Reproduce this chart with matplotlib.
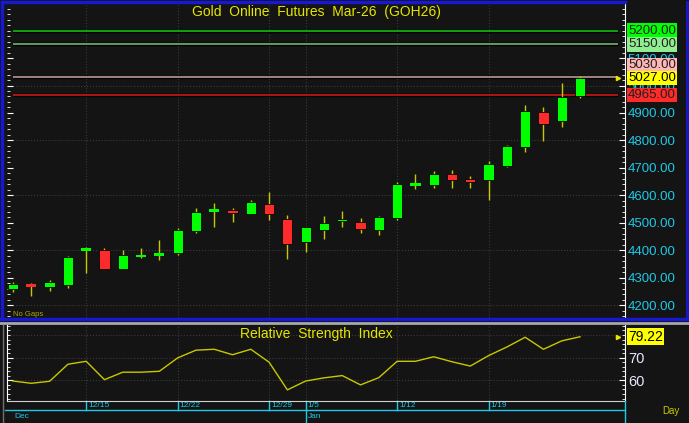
import matplotlib.pyplot as plt
from matplotlib.patches import Rectangle
from matplotlib.lines import Line2D
import numpy as np

plt.rcParams['font.family'] = ['Liberation Sans', 'DejaVu Sans']

# daily candles, Gold Online Futures Mar-26
opens = [4260, 4275, 4266, 4272, 4399, 4400, 4332, 4376, 4382, 4389, 4471, 4542, 4545, 4532, 4568, 4515,
         4431, 4475, 4505, 4502, 4472, 4518, 4637, 4637, 4678, 4661, 4654, 4708, 4775, 4902, 4871, 4962]
highs = [4285, 4280, 4290, 4379, 4410, 4408, 4402, 4408, 4436, 4481, 4554, 4572, 4555, 4582, 4612, 4528,
         4484, 4526, 4542, 4517, 4525, 4647, 4678, 4688, 4691, 4670, 4724, 4784, 4929, 4923, 5008, 5033]
lows = [4249, 4233, 4252, 4263, 4316, 4330, 4330, 4372, 4365, 4383, 4462, 4485, 4504, 4532, 4509, 4367,
        4392, 4442, 4485, 4461, 4455, 4509, 4622, 4626, 4626, 4626, 4583, 4704, 4758, 4799, 4850, 4956]
closes = [4276, 4266, 4283, 4375, 4404, 4332, 4381, 4381, 4388, 4475, 4538, 4550, 4534, 4576, 4533, 4421,
          4484, 4499, 4515, 4478, 4521, 4641, 4641, 4678, 4656, 4647, 4713, 4781, 4907, 4861, 4959, 5027]
rsi = [59.7, 58.7, 59.6, 67.1, 68.4, 60.3, 63.6, 63.6, 64.0, 69.9, 73.3, 73.7, 71.3, 73.7, 68.0, 55.8,
       59.7, 61.1, 62.1, 58.0, 61.2, 68.4, 68.4, 70.4, 68.2, 66.3, 70.9, 74.7, 79.0, 73.7, 77.4, 79.22]

# week start labels (candle index)
week_idx = [4, 9, 14, 16, 21, 26]
week_lbl = ['12/15', '12/22', '12/29', '1/5', '1/12', '1/19']
month_idx = [0, 16]
month_lbl = ['Dec', 'Jan']

# horizontal levels
levels = [5200, 5150, 5030, 4965]
level_line = ['#10c010', '#6fb86f', '#c09898', '#d01818']
level_box = ['#00ff00', '#90ee90', '#ffb6b6', '#ff2a2a']

BG = '#141414'
GRID = '#3a3a3a'
WICK = '#c8c800'
UP = '#00ff00'
DN = '#ff2a2a'
CYAN = '#1ec8e6'
W, H = 689, 423

fig = plt.figure(figsize=(W / 100, H / 100), dpi=100, facecolor=BG)


def fr(x0, y0, x1, y1):
    return [x0 / W, 1 - y1 / H, (x1 - x0) / W, (y1 - y0) / H]


ax = fig.add_axes(fr(7, 4, 625, 318), facecolor=BG)
ax2 = fig.add_axes(fr(7, 325, 625, 401), facecolor=BG)

n = len(closes)
xs = np.arange(n)
for a in (ax, ax2):
    a.set_xlim(-0.33, 33.46)
    for s in ('top', 'bottom', 'left'):
        a.spines[s].set_visible(False)
    a.spines['right'].set_color('white')
    a.set_xticks([])
    for wi in week_idx:
        a.axvline(wi, color=GRID, ls=':', lw=0.8, zorder=0)

# candles
ax.set_ylim(4153, 5297)
bw = 0.56
for i in range(n):
    o, c = opens[i], closes[i]
    ax.vlines(i, lows[i], highs[i], color=WICK, lw=1, zorder=2)
    col = UP if c >= o else DN
    h = abs(c - o)
    if h < 10:
        mid = (o + c) / 2
        ax.add_patch(Rectangle((i - bw / 2, mid - 5), bw, 10, facecolor=col, edgecolor='none', zorder=3))
    else:
        ax.add_patch(Rectangle((i - bw / 2, min(o, c)), bw, h, facecolor=col, edgecolor='#050505',
                               lw=0.6, zorder=3))

for g in range(4200, 5300, 200):
    ax.axhline(g, color=GRID, ls=':', lw=0.8, zorder=0)

for v, lc in zip(levels, level_line):
    ax.hlines(v, 0, 33.05, color='black', lw=2.4, zorder=1)
    ax.hlines(v, 0, 33.05, color=lc, lw=1.2, zorder=1)

ax.plot(33.05, closes[-1], marker='>', ms=3, color='#e6e600', clip_on=False, zorder=4)

ax.set_yticks(np.arange(4200, 5101, 100))
ax.set_yticks(np.arange(4160, 5297, 20), minor=True)
ax.yaxis.set_major_formatter(plt.FuncFormatter(lambda v, p: '%.2f' % v))
ax.tick_params(axis='y', which='both', left=True, right=True, labelleft=False, labelright=True,
               direction='in', colors='white', labelcolor=CYAN, labelsize=9.5, pad=2)
ax.tick_params(axis='y', which='major', length=4)
ax.tick_params(axis='y', which='minor', length=2)

# boxed labels at right
ppu = (318 - 4) / (5297 - 4153)
box_h = 13 / ppu
bx = 1 + 3 / 618
for v, bc in zip(levels, level_box):
    yv = v
    if abs(v - closes[-1]) < box_h:
        yv = closes[-1] + box_h if v > closes[-1] else closes[-1] - box_h
    ax.text(bx, yv, '%.2f' % v, transform=ax.get_yaxis_transform(), ha='left', va='center',
            fontsize=9.5, color='#202020', zorder=5,
            bbox=dict(boxstyle='square,pad=0.1', facecolor=bc, edgecolor='none'))
ax.text(bx, closes[-1], '%.2f' % closes[-1], transform=ax.get_yaxis_transform(), ha='left', va='center',
        fontsize=9.5, color='black', zorder=6,
        bbox=dict(boxstyle='square,pad=0.1', facecolor='#ffff00', edgecolor='none'))

ax.text(0.5, 0.975, 'Gold  Online  Futures  Mar-26  (GOH26)', transform=ax.transAxes,
        ha='center', va='center', fontsize=10, color='#e6e600')
ax.text(0.01, 0.0, 'No Gaps', transform=ax.transAxes, ha='left', va='bottom', fontsize=5.5, color='#a8a800')

# RSI panel
ax2.set_ylim(50.9, 84.4)
for g in (60, 70, 80):
    ax2.axhline(g, color=GRID, ls=':', lw=0.8, zorder=0)
ax2.plot(xs, rsi, color='#c8c800', lw=1)
ax2.plot(33.05, rsi[-1], marker='>', ms=3, color='#e6e600', clip_on=False)
ax2.spines['left'].set_visible(True)
ax2.spines['left'].set_color('white')
ax2.spines['bottom'].set_visible(True)
ax2.spines['bottom'].set_color('#d0d0d0')
ax2.set_yticks([60, 70])
ax2.set_yticks(np.arange(52, 85, 2), minor=True)
ax2.tick_params(axis='y', which='both', left=True, right=True, labelleft=False, labelright=True,
                direction='in', colors='white', labelcolor='#e8e8ff', labelsize=10.5, pad=2)
ax2.tick_params(axis='y', which='major', length=4)
ax2.tick_params(axis='y', which='minor', length=2)
ax2.text(bx, rsi[-1], '%.2f' % rsi[-1], transform=ax2.get_yaxis_transform(), ha='left', va='center',
         fontsize=10, color='black', zorder=6,
         bbox=dict(boxstyle='square,pad=0.1', facecolor='#ffff00', edgecolor='none'))
ax2.text(0.5, 0.88, 'Relative  Strength  Index', transform=ax2.transAxes,
         ha='center', va='center', fontsize=10, color='#e6e600')

# date axis under the RSI panel
tr = ax2.get_xaxis_transform()
pxf = 1 / 76
for wi, wl in zip(week_idx, week_lbl):
    ax2.plot([wi, wi], [0, -9 * pxf], color=CYAN, lw=1, transform=tr, clip_on=False)
    ax2.text(wi + 0.1, -4.5 * pxf, wl, transform=tr, fontsize=6, color=CYAN, ha='left', va='center')
for mi, ml in zip(month_idx, month_lbl):
    if mi > 0:
        ax2.plot([mi, mi], [-9 * pxf, -22 * pxf], color=CYAN, lw=1, transform=tr, clip_on=False)
    ax2.text(mi + 0.1, -15 * pxf, ml, transform=tr, fontsize=6, color=CYAN, ha='left', va='center')
ax2.text(1.06, -10 * pxf, 'Day', transform=ax2.transAxes, fontsize=7, color='#c8c800', ha='left', va='center')


# frame lines in pixel coords
def fline(x0, y0, x1, y1, **kw):
    fig.add_artist(Line2D([x0 / W, x1 / W], [1 - y0 / H, 1 - y1 / H], transform=fig.transFigure, **kw))


fline(5, 410, 625, 410, color=CYAN, lw=1)
fline(625, 401, 625, 423, color=CYAN, lw=1)
fline(0, 322.5, W, 322.5, color='#a8a8a8', lw=2)
fline(2.5, 325, 2.5, 423, color='#707070', lw=1)
fline(2, 2, 625, 2, color='#1818d0', lw=2.5)
fline(2, 2, 2, 319, color='#1818d0', lw=2.5)
fline(0, 319, W, 319, color='#1818d0', lw=2.5)
fline(686.5, 2, 686.5, 319, color='#1818d0', lw=2)

fig.savefig('out.png', dpi=100, facecolor=BG)
